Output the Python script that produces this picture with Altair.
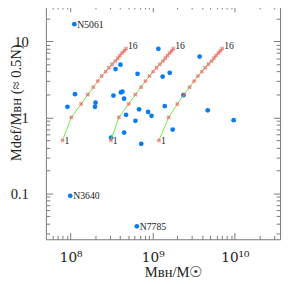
import altair as alt
import pandas as pd

# ---- data ----
bh_mass = [1.11e8, 9.9e7, 6.4e8, 1.13e8, 9.15e7, 2.01e8, 1.98e8, 3.11e8, 3.32e8, 4.09e8,
           4.27e8, 4.48e8, 4.73e8, 4.48e8, 3.52e8, 4.04e8, 6.15e8, 6.53e8, 6.81e8, 7.24e8,
           8.77e8, 9.66e8, 1.17e9, 1.32e9, 1.61e9, 1.40e9, 1.75e9, 2.36e9, 3.72e9, 4.67e9,
           9.66e9]
m_def = [16.8, 0.093, 0.037, 2.02, 1.38, 1.56, 1.38, 0.543, 1.94, 2.13,
         2.18, 1.76, 1.08, 0.633, 4.33, 4.94, 0.902, 3.74, 1.28, 0.449,
         1.18, 1.05, 7.98, 3.45, 3.86, 1.41, 0.693, 1.96, 6.31, 1.24,
         0.92]
names = ["N5061", "N3640", "N7785"] + [""] * 28

curve_n = [1, 2, 3, 4, 5, 6, 7, 8, 9, 10, 11, 12, 13, 14, 15, 16]
curve_mdef = [0.5, 1.0, 1.5, 2.0, 2.5, 3.0, 3.5, 4.0, 4.5, 5.0, 5.5, 6.0, 6.5, 7.0, 7.5, 8.0]
curve1_mbh = [7.98e7, 1.02e8, 1.34e8, 1.62e8, 1.89e8, 2.14e8, 2.39e8, 2.67e8,
              2.93e8, 3.20e8, 3.50e8, 3.74e8, 3.98e8, 4.24e8, 4.48e8, 4.73e8]
curve2_mbh = [3.09e8, 3.87e8, 5.09e8, 6.15e8, 7.20e8, 8.15e8, 9.10e8, 1.01e9,
              1.11e9, 1.22e9, 1.33e9, 1.42e9, 1.51e9, 1.61e9, 1.70e9, 1.78e9]
curve3_mbh = [1.19e9, 1.56e9, 1.99e9, 2.40e9, 2.81e9, 3.19e9, 3.55e9, 3.96e9,
              4.35e9, 4.76e9, 5.20e9, 5.55e9, 5.91e9, 6.30e9, 6.64e9, 7.01e9]

x_major = [1e8, 1e9, 1e10]
x_minor = [6e7, 7e7, 8e7, 9e7, 2e8, 3e8, 4e8, 5e8, 6e8, 7e8, 8e8, 9e8,
           2e9, 3e9, 4e9, 5e9, 6e9, 7e9, 8e9, 9e9, 2e10, 3e10]
y_major = [0.1, 1, 10]
y_minor = [0.03, 0.04, 0.05, 0.06, 0.07, 0.08, 0.09, 0.2, 0.3, 0.4, 0.5, 0.6, 0.7,
           0.8, 0.9, 2, 3, 4, 5, 6, 7, 8, 9, 20]

pts = pd.DataFrame({"mbh": bh_mass, "mdef": m_def, "name": names})
curves = pd.DataFrame({
    "mbh": curve1_mbh + curve2_mbh + curve3_mbh,
    "mdef": curve_mdef * 3,
    "n": curve_n * 3,
    "curve": ["a"] * 16 + ["b"] * 16 + ["c"] * 16,
})

SERIF = "Liberation Serif"
TICK = "#777777"
INK = "#222222"

xs = alt.Scale(type="log", domain=[5e7, 3.55e10], nice=False)
ys = alt.Scale(type="log", domain=[0.025, 30], nice=False)


def mkaxis(orient, values, size, labels=False, **kw):
    return alt.Axis(orient=orient, values=values, domain=False, grid=False,
                    offset=-size, tickSize=size, tickColor=TICK, tickWidth=1,
                    labels=labels, **kw)


x_bottom_major = mkaxis(
    "bottom", x_major, 7, labels=True,
    labelExpr="datum.value < 5e8 ? '10⁸' : datum.value < 5e9 ? '10⁹' : '10¹⁰'",
    labelFont="DejaVu Serif", labelFontSize=14, labelColor=INK, labelPadding=12,
    labelFlush=False, labelOverlap=False,
    title="Mʙʜ/M☉", titleFont=SERIF, titleFontSize=15, titleFontWeight="normal",
    titleColor=INK, titleX=131, titleY=45, titleAlign="center", titleBaseline="alphabetic")
x_bottom_minor = mkaxis("bottom", x_minor, 4, title=None)
x_top_major = mkaxis("top", x_major, 7, title=None)
x_top_minor = mkaxis("top", x_minor, 4, title=None)

y_left_major = mkaxis(
    "left", y_major, 7, labels=True,
    labelExpr="datum.value < 0.5 ? '0.1' : datum.value < 5 ? '1' : '10'",
    labelFont=SERIF, labelFontSize=15, labelColor=INK, labelPadding=18,
    labelFlush=False, labelOverlap=False,
    title="Mdef/Mʙʜ  (≈  0.5N)", titleFont=SERIF, titleFontSize=15,
    titleFontWeight="normal", titleColor=INK, titleAngle=270,
    titleX=-38, titleY=100, titleAlign="center", titleBaseline="middle")
y_left_minor = mkaxis("left", y_minor, 4, title=None)
y_right_major = mkaxis("right", y_major, 7, title=None)
y_right_minor = mkaxis("right", y_minor, 4, title=None)

points = alt.Chart(pts).mark_circle(size=24, color="#0a7cf2", opacity=1).encode(
    x=alt.X("mbh:Q", scale=xs, axis=x_bottom_major),
    y=alt.Y("mdef:Q", scale=ys, axis=y_left_major),
)

lines = alt.Chart(curves).mark_line(color="#6ee84a", strokeWidth=1).encode(
    x=alt.X("mbh:Q", scale=xs, axis=x_bottom_minor),
    y=alt.Y("mdef:Q", scale=ys, axis=y_left_minor),
    detail="curve:N",
    order="n:Q",
)

crosses = alt.Chart(curves).mark_point(
    shape="cross", angle=45, filled=True, size=20, color="#f04a4a", opacity=0.6
).encode(
    x=alt.X("mbh:Q", scale=xs, axis=x_top_major),
    y=alt.Y("mdef:Q", scale=ys, axis=y_right_major),
)

name_text = alt.Chart(pts).transform_filter("datum.name != ''").mark_text(
    align="left", baseline="middle", dx=3, dy=0.5, font=SERIF, fontSize=10, color=INK
).encode(
    x=alt.X("mbh:Q", scale=xs, axis=x_top_minor),
    y=alt.Y("mdef:Q", scale=ys, axis=y_right_minor),
    text="name:N",
)

first_text = alt.Chart(curves).transform_filter("datum.n == 1").mark_text(
    align="left", baseline="middle", dx=2, dy=1, font=SERIF, fontSize=10, color=INK
).encode(
    x=alt.X("mbh:Q", scale=xs, axis=None),
    y=alt.Y("mdef:Q", scale=ys, axis=None),
    text="n:N",
)

last_text = alt.Chart(curves).transform_filter("datum.n == 16").mark_text(
    align="left", baseline="alphabetic", dx=2, dy=0, font=SERIF, fontSize=10, color=INK
).encode(
    x=alt.X("mbh:Q", scale=xs, axis=None),
    y=alt.Y("mdef:Q", scale=ys, axis=None),
    text="n:N",
)

chart = alt.layer(points, lines, crosses, name_text, first_text, last_text).resolve_axis(
    x="independent", y="independent"
).properties(
    width=241, height=241,
    background="white",
    autosize=alt.AutoSizeParams(type="none"),
    padding={"left": 39, "top": -7, "right": 3, "bottom": 40},
).configure_view(stroke=TICK, strokeWidth=1)

chart.save("out.html", embed_options={"renderer": "svg", "actions": False})
